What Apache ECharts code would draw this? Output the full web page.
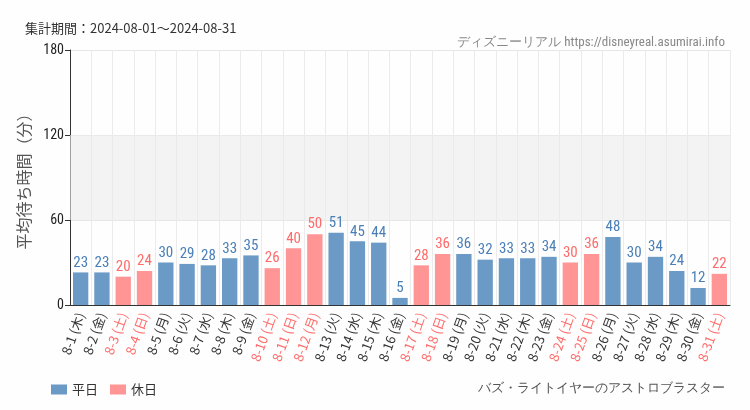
<!DOCTYPE html>
<html><head><meta charset="utf-8">
<script src="https://cdn.jsdelivr.net/npm/echarts@6/dist/echarts.min.js"></script>
<style>html,body{margin:0;padding:0;background:#fdfefd;}#c{width:750px;height:410px;}</style>
</head><body><div id="c"></div>
<script>
var categories = ['8-1 (木)','8-2 (金)','8-3 (土)','8-4 (日)','8-5 (月)','8-6 (火)','8-7 (水)','8-8 (木)','8-9 (金)','8-10 (土)','8-11 (日)','8-12 (月)','8-13 (火)','8-14 (水)','8-15 (木)','8-16 (金)','8-17 (土)','8-18 (日)','8-19 (月)','8-20 (火)','8-21 (水)','8-22 (木)','8-23 (金)','8-24 (土)','8-25 (日)','8-26 (月)','8-27 (火)','8-28 (水)','8-29 (木)','8-30 (金)','8-31 (土)'];
var values = [23,23,20,24,30,29,28,33,35,26,40,50,51,45,44,5,28,36,36,32,33,33,34,30,36,48,30,34,24,12,22];
var holidayFlags = [0,0,1,1,0,0,0,0,0,1,1,1,0,0,0,0,1,1,0,0,0,0,0,1,1,0,0,0,0,0,1];
var yTicks = [0,60,120,180];
var seriesNames = ['平日','休日'];

var weekday = values.map(function(v,i){return holidayFlags[i]?'-':v;});
var holiday = values.map(function(v,i){return holidayFlags[i]?v:'-';});
var narrow = '"Liberation Sans Narrow","Roboto Condensed","DejaVu Sans Condensed",sans-serif';

var chart = echarts.init(document.getElementById('c'));
chart.setOption({
  backgroundColor:'#fdfefd',
  animation:false,
  title:[
    {text:'集計期間：2024-08-01～2024-08-31',left:20,top:17,textStyle:{fontSize:13,fontWeight:'normal',color:'#333',fontFamily:'"Noto Sans CJK JP",sans-serif'}},
    {text:'ディズニーリアル https://disneyreal.asumirai.info',right:20,top:31,textStyle:{fontSize:13,fontWeight:'normal',color:'#888',fontFamily:narrow}},
    {text:'バズ・ライトイヤーのアストロブラスター',right:20,top:377,textStyle:{fontSize:13,fontWeight:'normal',color:'#555',fontFamily:narrow}}
  ],
  legend:{left:46,top:378,itemWidth:16,itemHeight:10,itemGap:12,icon:'rect',data:seriesNames,textStyle:{fontSize:13,color:'#333',fontFamily:'"Noto Sans CJK JP",sans-serif'}},
  grid:{left:70,right:20,top:50,bottom:105},
  xAxis:{type:'category',data:categories,
    axisLine:{lineStyle:{color:'#333'}},
    axisTick:{alignWithLabel:true,lineStyle:{color:'#333'}},
    splitLine:{show:true,lineStyle:{color:'#ebebeb'}},
    axisLabel:{rotate:70,interval:0,fontSize:13,margin:8,fontFamily:'"Noto Sans CJK JP",sans-serif',
      color:function(v,i){return holidayFlags[i]?'#ff6b6b':'#333';}}
  },
  yAxis:{type:'value',min:0,max:180,interval:60,
    name:'平均待ち時間（分）',nameLocation:'middle',nameGap:31,nameRotate:90,
    nameTextStyle:{fontSize:16,color:'#555',fontFamily:'"Noto Sans CJK JP",sans-serif'},
    axisLine:{show:true,lineStyle:{color:'#333'}},
    axisTick:{show:true,lineStyle:{color:'#333'}},
    splitLine:{lineStyle:{color:'#e6e6e6'}},
    axisLabel:{fontSize:14,color:'#222',margin:6,fontFamily:narrow,
      formatter:function(v){return yTicks.indexOf(v)>=0?String(v):'';}}
  },
  series:[
    {name:seriesNames[0],type:'bar',stack:'a',data:weekday,barWidth:'72%',
     itemStyle:{color:'#6a9ac5'},
     label:{show:true,position:'top',distance:2,color:'#4a7fb8',fontSize:15,fontFamily:narrow},
     markArea:{silent:true,itemStyle:{color:'rgba(235,235,235,0.6)'},data:[[{yAxis:60},{yAxis:120}]]}
    },
    {name:seriesNames[1],type:'bar',stack:'a',data:holiday,barWidth:'72%',
     itemStyle:{color:'#ff9595'},
     label:{show:true,position:'top',distance:2,color:'#ff6b6b',fontSize:15,fontFamily:narrow}}
  ]
});
</script></body></html>
